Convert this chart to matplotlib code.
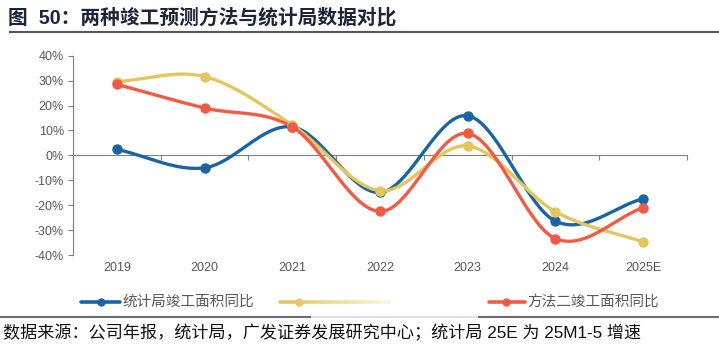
"""
两种竣工预测方法与统计局数据对比（图50）
"""

import numpy as np
import matplotlib
matplotlib.use("Agg")
import matplotlib.pyplot as plt
from matplotlib.lines import Line2D

plt.rcParams['font.family'] = ['Liberation Sans', 'Noto Sans CJK SC']
plt.rcParams['axes.unicode_minus'] = False

# ==================== 数据 ====================
years = ['2019', '2020', '2021', '2022', '2023', '2024', '2025E']
nbs_yoy = [2.4, -5.0, 11.4, -14.9, 15.9, -26.4, -17.4]       # 统计局竣工面积同比
method1_yoy = [29.6, 31.6, 12.2, -14.2, 3.8, -22.6, -34.8]   # 方法一（图例文字被遮挡）
method2_yoy = [28.5, 19.0, 11.4, -22.5, 8.8, -33.4, -21.0]   # 方法二竣工面积同比

labels = ['统计局竣工面积同比', '', '方法二竣工面积同比']
colors = ['#1B64A4', '#E5C65C', '#F25A45']

GRAY = '#595959'
W, H = 719, 351


def smooth(x, y, n=40):
    """Catmull-Rom 平滑，仿 Excel 平滑线"""
    x = np.asarray(x, float)
    y = np.asarray(y, float)
    px = np.concatenate([[2 * x[0] - x[1]], x, [2 * x[-1] - x[-2]]])
    py = np.concatenate([[2 * y[0] - y[1]], y, [2 * y[-1] - y[-2]]])
    xs, ys = [], []
    t = np.linspace(0, 1, n)
    for i in range(1, len(px) - 2):
        p0, p1, p2, p3 = [np.array([px[j], py[j]]) for j in (i - 1, i, i + 1, i + 2)]
        m1 = (p2 - p0) / 2
        m2 = (p3 - p1) / 2
        h00 = 2 * t**3 - 3 * t**2 + 1
        h10 = t**3 - 2 * t**2 + t
        h01 = -2 * t**3 + 3 * t**2
        h11 = t**3 - t**2
        seg = (np.outer(h00, p1) + np.outer(h10, m1) + np.outer(h01, p2) + np.outer(h11, m2))
        xs.append(seg[:, 0])
        ys.append(seg[:, 1])
    return np.concatenate(xs), np.concatenate(ys)


def fx(px):
    return px / W


def fy(py):
    return 1 - py / H


fig = plt.figure(figsize=(W / 100, H / 100), dpi=100)
ax = fig.add_axes([fx(73), fy(255), 614 / W, 199.3 / H])

x = np.arange(len(years))
for vals, c in zip([nbs_yoy, method1_yoy, method2_yoy], colors):
    sx, sy = smooth(x, vals)
    ax.plot(sx, sy, color=c, lw=2.4, solid_capstyle='round', zorder=3)
    ax.plot(x, vals, 'o', color=c, ms=6.5, zorder=4)

ax.set_xlim(-0.5, len(years) - 0.5)
ax.set_ylim(-40, 40)
ax.set_yticks(np.arange(-40, 41, 10))
ax.set_yticklabels([f'{v}%' for v in range(-40, 41, 10)])
ax.tick_params(axis='y', direction='out', length=3.5, width=0.8, color='#808080',
               labelsize=9, labelcolor=GRAY, pad=3)

ax.spines['top'].set_visible(False)
ax.spines['right'].set_visible(False)
ax.spines['left'].set_color('#808080')
ax.spines['bottom'].set_color('#808080')
ax.spines['bottom'].set_position(('data', 0))
ax.set_xticks(np.arange(-0.5, len(years), 1))
ax.set_xticklabels([])
ax.tick_params(axis='x', direction='out', length=3.5, width=0.8, color='#808080')

for i, yr in enumerate(years):
    ax.text(i, -0.065, yr, transform=ax.get_xaxis_transform(), ha='center', va='center',
            fontsize=9, color=GRAY)

# 图例（手动排布：线段 + 圆点 + 文字）
legend_y = fy(302)
legend_spans = [(81, 120), (280, 390), (489, 525)]
legend_dots = [101, 299, 506]
for (x0, x1), xd, c, lab in zip(legend_spans, legend_dots, colors, labels):
    fig.add_artist(Line2D([fx(x0), fx(x1)], [legend_y] * 2, color=c, lw=2.6,
                          solid_capstyle='round'))
    fig.add_artist(Line2D([fx(xd)], [legend_y], color=c, marker='o', ms=5))
    if lab:
        fig.text(fx(x1 + 2), legend_y, lab, fontsize=10.5, color=GRAY,
                 ha='left', va='center')

# 标题
fig.text(fx(8), fy(18), '图  50：两种竣工预测方法与统计局数据对比', fontsize=14.2,
         fontweight='bold', color='#1c2538', ha='left', va='center')
fig.add_artist(Line2D([fx(10), 1], [fy(32)] * 2, color='#555555', lw=1.5))

# 底部分隔线与来源
fig.add_artist(Line2D([0, 1], [fy(317)] * 2, color='#6d6d6d', lw=1.5))
fig.text(fx(3), fy(333), '数据来源：公司年报，统计局，广发证券发展研究中心；统计局 25E 为 25M1-5 增速',
         fontsize=12.3, color='#111111', ha='left', va='center')

# 图例中部的白色渐隐遮罩
ov = fig.add_axes([fx(290), fy(312), 190 / W, 20 / H], zorder=10)
grad = np.ones((2, 256, 4))
grad[..., 3] = np.clip(np.linspace(0, 1.6, 256), 0, 1)
ov.imshow(grad, aspect='auto', extent=(0, 1, 0, 1))
ov.axis('off')

ov2 = fig.add_axes([fx(311), fy(320), 167 / W, 6 / H], zorder=10)
ov2.imshow(np.ones((2, 2, 4)) * [1, 1, 1, 0.8], aspect='auto', extent=(0, 1, 0, 1))
ov2.axis('off')

fig.savefig('out.png', dpi=100)
